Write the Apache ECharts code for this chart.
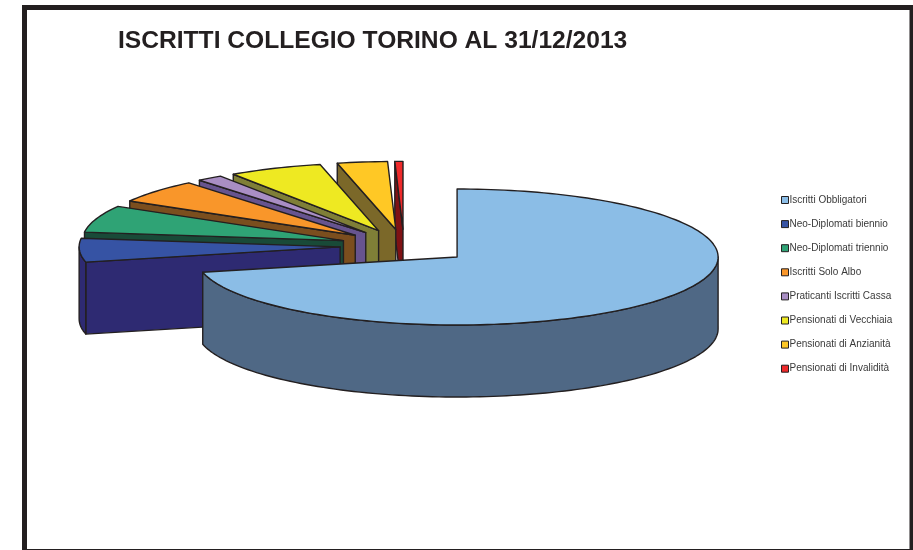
<!DOCTYPE html>
<html>
<head>
<meta charset="utf-8">
<style>html,body{margin:0;padding:0;background:#fff}#c{width:913px;height:550px}</style>
<script src="https://cdn.jsdelivr.net/npm/echarts@6/dist/echarts.min.js"></script>
</head>
<body>
<div id="c"></div>
<script>
const chartTitle = 'ISCRITTI COLLEGIO TORINO AL 31/12/2013';
const categories = ['Iscritti Obbligatori','Neo-Diplomati biennio','Neo-Diplomati triennio','Iscritti Solo Albo','Praticanti Iscritti Cassa','Pensionati di Vecchiaia','Pensionati di Anzianità','Pensionati di Invalidità'];
const values = [71.4, 5.6, 6.4, 5.6, 1.6, 5.8, 3.1, 0.5];
const topColors = ['#8BBDE6','#3653A4','#2FA375','#F9962A','#A98EC4','#EEE922','#FFC825','#EE2A2B'];
const wallColors = ['#4F6885','#2E2A72','#194A38','#7B4E1E','#67548F','#7F7F37','#7B6829','#7F1114'];
const explode = [0.26, 0.245, 0.245, 0.245, 0.245, 0.245, 0.245, 0.245];

// projection of the tilted, exploded pie
const CX = 404, CY = 246, RX = 261, RY = 68, DEPTH = 72;
const INK = '#231F20', LINE = 1.4;
const total = values.reduce((a, b) => a + b, 0);

function sliceAngles(i) {
  let before = 0;
  for (let k = 0; k < i; k++) before += values[k];
  return [before / total * 360, (before + values[i]) / total * 360];
}
function unit(deg) { const r = deg * Math.PI / 180; return [Math.sin(r), -Math.cos(r)]; }
function arcPts(ax, ay, a0, a1, dz) {
  const n = Math.max(2, Math.ceil(Math.abs(a1 - a0) / 1.5)), out = [];
  for (let j = 0; j <= n; j++) {
    const u = unit(a0 + (a1 - a0) * j / n);
    out.push([ax + u[0] * RX, ay + u[1] * RY + dz]);
  }
  return out;
}
function poly(points, fill) {
  return { type: 'polygon', shape: { points },
    style: { fill, stroke: INK, lineWidth: LINE, lineJoin: 'round' } };
}
function renderSlice(i) {
  const [s, e] = sliceAngles(i);
  const m = unit((s + e) / 2);
  const ax = CX + m[0] * explode[i] * RX, ay = CY + m[1] * explode[i] * RY;
  const children = [];
  // radial wall under the start edge, when it faces the viewer
  if (s >= 180 && s < 360) {
    const u = unit(s);
    const ox = ax + u[0] * RX, oy = ay + u[1] * RY;
    children.push(poly([[ax, ay], [ox, oy], [ox, oy + DEPTH], [ax, ay + DEPTH]], wallColors[i]));
  }
  // outer rim on the front half
  const f0 = Math.max(s, 90), f1 = Math.min(e, 270);
  if (f1 > f0) {
    const up = arcPts(ax, ay, f0, f1, 0), down = arcPts(ax, ay, f1, f0, DEPTH);
    children.push(poly(up.concat(down), wallColors[i]));
  }
  // top face
  children.push(poly([[ax, ay]].concat(arcPts(ax, ay, s, e, 0)), topColors[i]));
  return { type: 'group', children };
}

const series = categories.map((name, i) => ({
  type: 'custom',
  name,
  coordinateSystem: 'none',
  silent: true,
  animation: false,
  z: i === 0 ? 30 : 20 - i,
  itemStyle: { color: topColors[i] },
  data: [values[i]],
  renderItem: () => renderSlice(i)
}));

const chart = echarts.init(document.getElementById('c'), null, { renderer: 'canvas', width: 913, height: 550 });
chart.setOption({
  animation: false,
  backgroundColor: '#fff',
  title: {
    text: chartTitle, left: 118, top: 29, padding: 0,
    textStyle: { fontFamily: 'Liberation Sans', fontSize: 24.6, fontWeight: 'bold', color: INK }
  },
  legend: {
    orient: 'vertical', left: 781, top: 195, padding: 0,
    data: categories, selectedMode: false,
    icon: 'rect', itemWidth: 7, itemHeight: 7, itemGap: 14.1,
    itemStyle: { borderColor: INK, borderWidth: 1 },
    textStyle: { fontFamily: 'Liberation Sans', fontSize: 10, color: '#3A3A3A', padding: [0, 0, 0, -4], lineHeight: 10, height: 10 }
  },
  graphic: [{
    type: 'rect', silent: true, z: 100,
    shape: { x: 24.5, y: 7.5, width: 887.5, height: 544 },
    style: { fill: 'none', stroke: INK, lineWidth: 5 }
  }],
  series
});
</script>
</body>
</html>
